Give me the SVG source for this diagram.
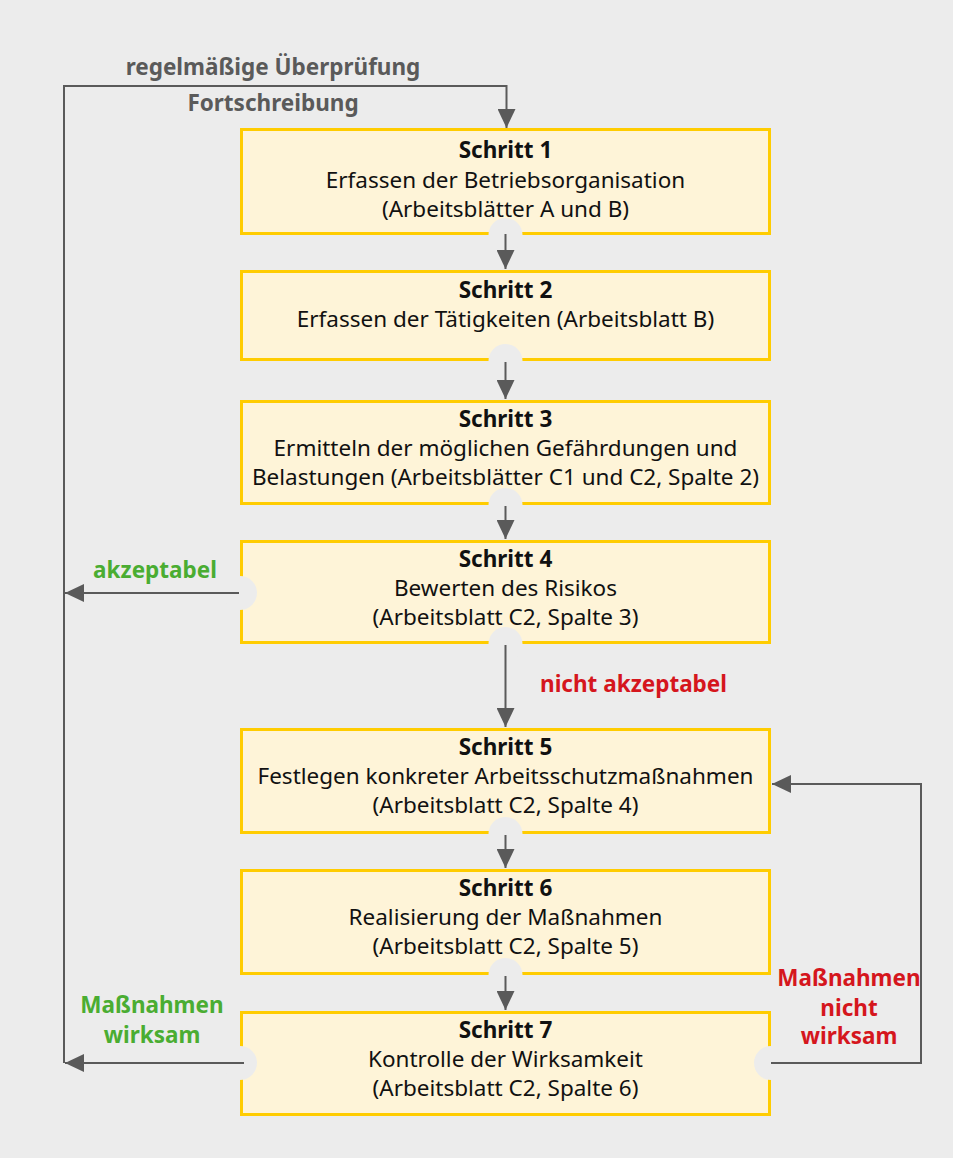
<svg xmlns="http://www.w3.org/2000/svg" width="953" height="1158" viewBox="0 0 953 1158">
<defs>
<style>
.box{fill:#fef4d8;stroke:#ffcc00;stroke-width:3}
.notch{fill:#ececec}
.t{font-family:"Noto Sans","Liberation Sans",sans-serif;font-size:22.5px;fill:#111;text-anchor:middle}
.b{font-weight:bold}
.lbl{font-family:"Noto Sans","Liberation Sans",sans-serif;font-size:22.5px;font-weight:bold}
.gray{fill:#5a5a5a}
.green{fill:#4aad32}
.red{fill:#d5161d}
.c{fill:none;stroke:#5a5a5a;stroke-width:2}
</style>
<marker id="ah" markerUnits="userSpaceOnUse" markerWidth="20" markerHeight="18" refX="19" refY="9" orient="auto" viewBox="0 0 20 18">
<path d="M0,0 L19,9 L0,18 Z" fill="#5a5a5a"/>
</marker>
</defs>
<rect x="0" y="0" width="953" height="1158" fill="#ececec"/>

<g id="node1">
<rect class="box" x="241.5" y="129.5" width="528" height="104"/>
<circle class="notch" cx="505.5" cy="235" r="17"/>
<text class="t b" x="505.5" y="158">Schritt 1</text>
<text class="t" x="505.5" y="188">Erfassen der Betriebsorganisation</text>
<text class="t" x="505.5" y="217">(Arbeitsblätter A und B)</text>
</g>
<g id="node2">
<rect class="box" x="241.5" y="271.5" width="528" height="88"/>
<circle class="notch" cx="505.5" cy="361" r="17"/>
<text class="t b" x="505.5" y="298">Schritt 2</text>
<text class="t" x="505.5" y="327">Erfassen der Tätigkeiten (Arbeitsblatt B)</text>
</g>
<g id="node3">
<rect class="box" x="241.5" y="401.5" width="528" height="102"/>
<circle class="notch" cx="505.5" cy="505" r="17"/>
<text class="t b" x="505.5" y="427">Schritt 3</text>
<text class="t" x="505.5" y="456">Ermitteln der möglichen Gefährdungen und</text>
<text class="t" x="505.5" y="485">Belastungen (Arbeitsblätter C1 und C2, Spalte 2)</text>
</g>
<g id="node4">
<rect class="box" x="241.5" y="541.5" width="528" height="101"/>
<circle class="notch" cx="505.5" cy="644" r="17"/>
<circle class="notch" cx="240" cy="593" r="17"/>
<text class="t b" x="505.5" y="567">Schritt 4</text>
<text class="t" x="505.5" y="596">Bewerten des Risikos</text>
<text class="t" x="505.5" y="625">(Arbeitsblatt C2, Spalte 3)</text>
</g>
<g id="node5">
<rect class="box" x="241.5" y="729.5" width="528" height="103"/>
<circle class="notch" cx="505.5" cy="834" r="17"/>
<text class="t b" x="505.5" y="755">Schritt 5</text>
<text class="t" x="505.5" y="784">Festlegen konkreter Arbeitsschutzmaßnahmen</text>
<text class="t" x="505.5" y="813">(Arbeitsblatt C2, Spalte 4)</text>
</g>
<g id="node6">
<rect class="box" x="241.5" y="870.5" width="528" height="103"/>
<circle class="notch" cx="505.5" cy="975" r="17"/>
<text class="t b" x="505.5" y="896">Schritt 6</text>
<text class="t" x="505.5" y="925">Realisierung der Maßnahmen</text>
<text class="t" x="505.5" y="954">(Arbeitsblatt C2, Spalte 5)</text>
</g>
<g id="node7">
<rect class="box" x="241.5" y="1012.5" width="528" height="102"/>
<circle class="notch" cx="240" cy="1063" r="17"/>
<circle class="notch" cx="771" cy="1063" r="17"/>
<text class="t b" x="505.5" y="1038">Schritt 7</text>
<text class="t" x="505.5" y="1067">Kontrolle der Wirksamkeit</text>
<text class="t" x="505.5" y="1096">(Arbeitsblatt C2, Spalte 6)</text>
</g>

<g id="connectors">
<path class="c" d="M64,1063 V86 H506.5 V128" marker-end="url(#ah)"/>
<path class="c" d="M505.5,234 V269" marker-end="url(#ah)"/>
<path class="c" d="M505.5,362 V399" marker-end="url(#ah)"/>
<path class="c" d="M505.5,506 V539" marker-end="url(#ah)"/>
<path class="c" d="M505.5,645 V727" marker-end="url(#ah)"/>
<path class="c" d="M505.5,835 V868" marker-end="url(#ah)"/>
<path class="c" d="M505.5,976 V1010" marker-end="url(#ah)"/>
<path class="c" d="M239,593 H65" marker-end="url(#ah)"/>
<path class="c" d="M244,1063 H65" marker-end="url(#ah)"/>
<path class="c" d="M771,1063 H921 V784 H772" marker-end="url(#ah)"/>
</g>

<g id="labels">
<text class="lbl gray" x="273" y="75" text-anchor="middle">regelmäßige Überprüfung</text>
<text class="lbl gray" x="273" y="111" text-anchor="middle">Fortschreibung</text>
<text class="lbl green" x="155" y="578" text-anchor="middle">akzeptabel</text>
<text class="lbl red" x="540" y="692">nicht akzeptabel</text>
<text class="lbl green" x="152" y="1013" text-anchor="middle">Maßnahmen</text>
<text class="lbl green" x="152" y="1043" text-anchor="middle">wirksam</text>
<text class="lbl red" x="849" y="986" text-anchor="middle">Maßnahmen</text>
<text class="lbl red" x="849" y="1016" text-anchor="middle">nicht</text>
<text class="lbl red" x="849" y="1044" text-anchor="middle">wirksam</text>
</g>
</svg>
